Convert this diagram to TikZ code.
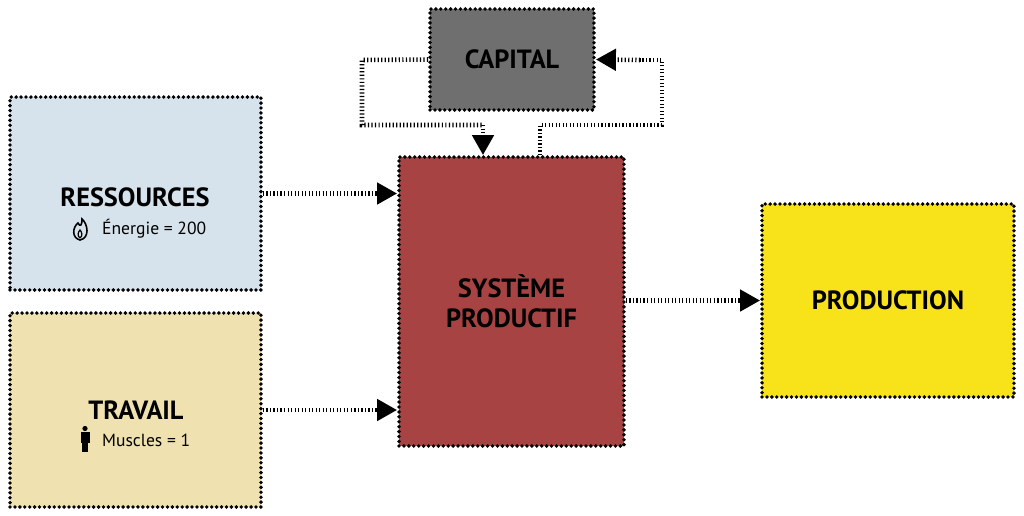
\documentclass[tikz,border=0pt]{standalone}
\usepackage{fontspec}
\setmainfont{PT Sans}
\usetikzlibrary{arrows.meta,positioning}
\definecolor{capgray}{HTML}{6F6F6F}
\definecolor{resblue}{HTML}{D6E3EC}
\definecolor{travbeige}{HTML}{EFE2B0}
\definecolor{sysred}{HTML}{A84343}
\definecolor{prodyellow}{HTML}{F8E21A}
\tikzset{
  bloc/.style={draw=black, line width=2.2pt, dash pattern=on 0pt off 2.8pt, line cap=round, inner sep=0pt, font=\bfseries\fontsize{15}{17}\selectfont, align=center},
  flux/.style={line width=2.6pt, dash pattern=on 0.7pt off 1.3pt, -{Triangle[length=0.4cm,width=0.42cm]}},
  boucle/.style={line width=2.6pt, dash pattern=on 0.7pt off 1.3pt},
  sous/.style={font=\fontsize{10}{12}\selectfont}
}
\begin{document}
\begin{tikzpicture}[x=0.02cm,y=-0.02cm]
	\useasboundingbox (0,0) rectangle (1024,515);
	% blocs
	\node[bloc, fill=capgray, minimum width=3.28cm, minimum height=2.02cm] (capital) at (512,59.5) {CAPITAL};
	\node[bloc, fill=resblue, minimum width=5.02cm, minimum height=3.86cm] (ressources) at (135.5,193.5) {};
	\node[bloc, fill=travbeige, minimum width=5.02cm, minimum height=3.88cm] (travail) at (135.5,410) {};
	\node[bloc, fill=sysred, minimum width=4.5cm, minimum height=5.78cm] (systeme) at (511.5,301.5) {SYSTÈME\\PRODUCTIF};
	\node[bloc, fill=prodyellow, minimum width=5.04cm, minimum height=3.86cm] (production) at (888,300.5) {PRODUCTION};
	% textes
	\node[font=\bfseries\fontsize{15}{17}\selectfont] (restitre) at (135,197) {RESSOURCES};
	\node[sous, anchor=west] (energie) at (96,229) {Énergie = 200};
	\node[font=\bfseries\fontsize{15}{17}\selectfont] (travtitre) at (136,410) {TRAVAIL};
	\node[sous, anchor=west] (muscles) at (96,440) {Muscles = 1};
	% icones
	\draw[line width=0.9pt] (80,240) .. controls (72,238) and (72,228) .. (78,223) .. controls (80,227) and (82,226) .. (82,219) .. controls (88,224) and (90,238) .. (80,240) -- cycle;
	\draw[line width=0.7pt] (80,238) .. controls (77,236) and (78,232) .. (80,230) .. controls (82,232) and (83,236) .. (80,238);
	\fill (85,428.5) circle (2.6);
	\fill (80.5,432) rectangle (89.5,443);
	\fill (82,443) rectangle (88,452);
	% flux
	\draw[flux] (ressources.east) -- (ressources.east -| systeme.west);
	\draw[flux] (travail.east) -- (travail.east -| systeme.west);
	\draw[flux] (systeme.east |- production.west) -- (production.west);
	% boucle du capital
	\coordinate (g1) at (362,60);
	\coordinate (g2) at (362,125);
	\coordinate (d1) at (662,60);
	\coordinate (d2) at (662,125);
	\draw[boucle] (capital.west) -- (g1) -- (g2) -- (483,125);
	\draw[flux] (483,125) -- (systeme.north -| 483,0);
	\draw[boucle] (systeme.north -| 540,0) -- (540,125) -- (d2) -- (d1) -- (640,60);
	\draw[flux] (640,60) -- (capital.east);
\end{tikzpicture}
\end{document}
